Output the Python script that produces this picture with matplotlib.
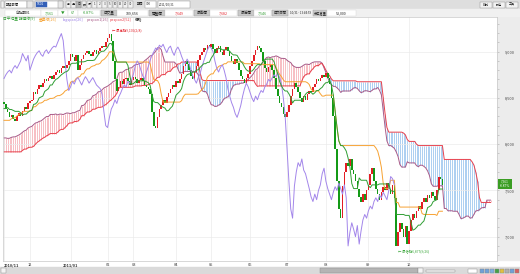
import matplotlib
matplotlib.use('Agg')
import matplotlib.pyplot as plt
import numpy as np
from matplotlib.patches import Rectangle
from matplotlib.ticker import FuncFormatter, MultipleLocator

plt.rcParams['font.family'] = ['Noto Sans CJK TC', 'DejaVu Sans']

# daily closes before the first visible bar (needed for the cloud)
pre_close = [7800, 7820, 7780, 7740, 7760, 7800, 7830, 7790, 7750,
             7700, 7670, 7640, 7660, 7700, 7680, 7650, 7634, 7660, 7700, 7720,
             7760, 7800, 7780, 7750, 7790, 7820, 7800,
             7780, 7770, 7800, 7840, 7880, 7860, 7900, 7940,
             7990, 8020, 8000, 8040, 8060, 8030, 8060,
             8080, 8120, 8100, 8150, 8180, 8160, 8200, 8190, 8170, 8200, 8180,
             8120, 8080, 8056, 8090, 8130, 8110, 8150, 8180, 8200,
             8230, 8260, 8250, 8290, 8300, 8280, 8320, 8340, 8310, 8350, 8330,
             8380, 8400, 8430, 8410, 8460]

# visible daily closes, 2010/11 .. 2011/10/31
close = [8430, 8380, 8350, 8290, 8320, 8270, 8250, 8300, 8340, 8310,
         8360, 8400, 8380, 8440, 8470, 8480,
         8560, 8540, 8600, 8640, 8620,
         8660, 8700, 8680, 8720, 8740, 8710, 8750,
         8780, 8800, 8770, 8820, 8850, 8820, 8860, 8900,
         8980, 8940, 8900, 8960, 8800, 8860, 8920,
         8960, 8990, 9010, 8970, 8950, 9000, 9020, 8980, 9010, 9040, 9060, 9050,
         9100, 9150, 9196, 9120,
         8900, 8700, 8580,
         8620, 8680, 8650, 8700, 8720, 8680, 8640, 8690, 8730,
         8700, 8660, 8690, 8720, 8680, 8640, 8620, 8600, 8540,
         8350, 8200, 8180, 8290,
         8380, 8420, 8480, 8440, 8510, 8550,
         8600, 8640, 8620, 8680, 8660, 8700, 8760,
         8850, 8900, 8870,
         8800, 8740, 8700, 8780, 8840, 8910,
         8960, 9000, 9040, 9020, 9070, 9050, 9080,
         9030, 8990, 9040, 9060, 9000, 8960, 9020, 9050, 9010,
         8950, 8900, 8870, 8920, 8880,
         8800, 8740, 8700, 8660, 8720, 8760,
         8840, 8900, 8960, 9020, 9060, 9040, 9000,
         8900, 8820, 8780,
         8830, 8860, 8800, 8720,
         8600, 8520, 8450, 8400,
         8330, 8290, 8350, 8420,
         8520, 8600, 8660, 8620, 8560,
         8500, 8460, 8520, 8480, 8540, 8580, 8560,
         8620, 8650, 8700, 8680, 8720, 8750, 8730, 8770, 8720,
         8650, 8500, 8300,
         7950, 7600, 7300, 7200,
         7550, 7700, 7800, 7760, 7840, 7720, 7680,
         7600, 7520, 7430, 7380, 7460, 7400, 7500, 7560,
         7680, 7740,
         7600, 7520, 7460, 7400, 7480, 7540,
         7500, 7580, 7520, 7460, 7560, 7420,
         6900, 7050, 7150, 7080, 7000, 7120, 6920, 7060,
         7180, 7240, 7200, 7280, 7330, 7300, 7380,
         7420, 7380, 7450, 7420, 7480, 7440, 7400,
         7500, 7650, 7628, 7561]

month_idx = [0, 14, 36, 56, 70, 93, 112, 133, 153, 174, 197, 219]
month_labels = ['2010/11', '12', '2011/01', '02', '03', '04', '05', '06',
                '07', '08', '09', '10']

W, H = 520, 274
fig = plt.figure(figsize=(W / 100, H / 100), dpi=100)
fig.patch.set_facecolor('white')


def box(x0, y0, x1, y1, fc, ec=None, lw=0.3):
    fig.patches.append(Rectangle((x0 / W, 1 - y1 / H), (x1 - x0) / W, (y1 - y0) / H,
                                 transform=fig.transFigure, facecolor=fc,
                                 edgecolor=ec if ec else fc, lw=lw, zorder=-2))


def txt(x, y, s, color='#222222', ha='left', size=2.6, weight='normal'):
    fig.text(x / W, 1 - y / H, s, color=color, ha=ha, va='center', fontsize=size,
             fontweight=weight)


# ichimoku lines from the closes
full = np.array(pre_close + close, dtype=float)
opens = np.r_[full[0], full[:-1]]
hi = np.maximum(opens, full)
lo = np.minimum(opens, full)


def midrange(n):
    out = np.full(len(full), np.nan)
    for i in range(n - 1, len(full)):
        out[i] = (hi[i - n + 1:i + 1].max() + lo[i - n + 1:i + 1].min()) / 2
    return out


tenkan = midrange(9)
kijun = midrange(26)
span1 = (tenkan + kijun) / 2
span2 = midrange(52)

P = len(pre_close)
N = len(close)
v = np.arange(N)
c = full[P:]
o = opens[P:]
sv = np.arange(N + 26)
s1 = span1[P - 26:P + N]
s2 = span2[P - 26:P + N]

ax = fig.add_axes([3 / W, (H - 261) / H, (497 - 3) / W, (261 - 17) / H])
ax.set_facecolor('white')

# cloud drawn as one vertical stroke per bar
up = s1 >= s2
ax.vlines(sv[up], s2[up], s1[up], color='#f6b3b9', lw=0.6, zorder=1)
ax.vlines(sv[~up], s1[~up], s2[~up], color='#9fc7ef', lw=0.6, zorder=1)
ax.plot(sv, s1, color='#a85a88', lw=0.7, zorder=2)
ax.plot(sv, s2, color='#e8404c', lw=0.7, zorder=2)

# candles
rise = c >= o
ax.bar(v[rise], c[rise] - o[rise], bottom=o[rise], width=0.85, color='#e31d25', lw=0, zorder=3)
ax.bar(v[~rise], c[~rise] - o[~rise], bottom=o[~rise], width=0.85, color='#149a17', lw=0, zorder=3)

ax.plot(v, kijun[P:], color='#f7a233', lw=0.7, zorder=4)
ax.plot(v[:N - 26], c[26:], color='#a386ea', lw=0.7, zorder=4)
ax.plot(v, tenkan[P:], color='#2f9e33', lw=0.7, zorder=5)

ax.text(58.3, 9232, '\u2190 最高點9,196(2/8)', color='#e3222b', fontsize=2.4, va='center', zorder=6)
ax.text(212.8, 6838, '\u2190 最低點6,877(9/26)', color='#3aa63a', fontsize=2.4, va='center', zorder=6)

ax.set_xlim(-0.54, 266.5)
ax.set_ylim(6737, 9375)
ax.set_xticks(month_idx)
ax.set_xticklabels(month_labels)
ax.tick_params(axis='x', length=0, pad=1.6, labelsize=2.8, colors='#333333')
for lab in ax.get_xticklabels():
    if '/' in lab.get_text():
        lab.set_fontweight('bold')
ax.get_xticklabels()[0].set_ha('left')
ax.yaxis.tick_right()
ax.yaxis.set_major_locator(MultipleLocator(500))
ax.yaxis.set_minor_locator(MultipleLocator(100))
ax.yaxis.set_major_formatter(FuncFormatter(lambda val, pos: '{:,.0f}'.format(val)))
ax.tick_params(axis='y', which='both', direction='out', length=1.5, width=0.4,
               color='#aaaaaa', labelsize=2.8, labelcolor='#444444', pad=4)
ax.grid(True, which='major', color='#ebebeb', lw=0.5, zorder=0)
for sp in ax.spines.values():
    sp.set_color('#c8c8c8')
    sp.set_linewidth(0.5)

# right axis panel
box(497, 17, 520, 261, '#ececec')

# price tag
fig.patches.append(Rectangle((498 / W, 1 - 189 / H), 14 / W, 10 / H, transform=fig.transFigure,
                             facecolor='#3a9d23', lw=0, zorder=2))
txt(505, 181.7, '7,561', color='white', ha='center', size=2.3)
txt(505, 186.3, '-0.87%', color='white', ha='center', size=2.3)

# top toolbar
box(0, 0, 520, 9, '#dedede')
box(0.5, 1, 4, 7.5, '#f4f4f4', '#8a8a8a')
box(5, 1, 27, 7.5, 'white', '#8a8a8a')
txt(6, 4.3, '期貨報價', size=2.3)
box(27, 1, 33, 7.5, '#e8e8e8', '#8a8a8a')
box(35, 1, 63, 7.5, 'white', '#8a8a8a')
box(36, 2, 47, 6.5, '#3460b8')
txt(37, 4.3, 'TX01', color='white', size=2.3)
box(58, 1, 63, 7.5, '#e8e8e8', '#8a8a8a')
btns = ['月', '週', '日', '時', '分', '1', '2', '3', '5', '10', '15', '20', '30']
bx = 66
for b in btns:
    fc = '#b8b8b8' if b == '日' else '#f2f2f2'
    box(bx, 1, bx + 4.6, 7.5, fc, '#8a8a8a')
    txt(bx + 2.3, 4.3, b, ha='center', size=2.1)
    bx += 5.2
txt(137, 4.3, '期間', size=2.3)
box(145, 1, 156, 7.5, 'white', '#8a8a8a')
txt(146, 4.3, '300', size=2.2)
box(158, 1, 190, 7.5, 'white', '#8a8a8a')
txt(159, 4.3, '2011/10/31', size=2.2)
for i, b in enumerate(['排列', '設定', '工具']):
    box(480 + i * 13, 1.5, 492 + i * 13, 7.5, '#f2f2f2', '#8a8a8a')
    txt(486 + i * 13, 4.5, b, ha='center', size=2.2)

# quote row
box(0, 9, 520, 17, '#f0f0f0')
cells = [(5, 41, '台指期01', '#222222', 'label'),
         (41, 58, '7,561', '#2c9a2c', 'value'),
         (58, 68, '\u25bc', '#2c9a2c', 'value'),
         (68, 78, '67', '#2c9a2c', 'value'),
         (78, 100, '-0.87%', '#2c9a2c', 'value'),
         (101, 117, '成交量', '#222222', 'head'),
         (117, 148, '109,656', '#222222', 'value'),
         (149, 165, '開盤價', '#222222', 'head'),
         (165, 193, '7,649', '#e3222b', 'value'),
         (194, 210, '最高價', '#222222', 'head'),
         (210, 237, '7,682', '#e3222b', 'value'),
         (238, 254, '最低價', '#222222', 'head'),
         (254, 271, '7,546', '#2c9a2c', 'value'),
         (272, 288, '成交時間', '#222222', 'head'),
         (288, 313, '10/31 - 13:44:59', '#222222', 'plain'),
         (313, 327, '未平倉量', '#222222', 'head'),
         (327, 356, '53,000', '#222222', 'value')]
for x0, x1, s, col, kind in cells:
    if kind == 'head':
        box(x0, 10, x1, 16, '#c9c9c9', '#9a9a9a')
    elif kind != 'plain':
        box(x0, 10, x1, 16, 'white', '#d6d6d6')
    size = 2.6
    if kind == 'plain':
        size = 2.1
    elif kind == 'head' and len(s) == 4:
        size = 2.3
    txt((x0 + x1) / 2, 13, s, color=col, ha='center', size=size)

# legend row
legend = [(3, '日平均量 轉換線[9]', '#2f9e33'), (39, '基準線[26]', '#f39a22'),
          (63, 'lagspan[26]', '#9a7ee6'), (87, 'pespan1[26]', '#a85a88'),
          (110, 'pespan2[52]', '#e8404c'), (135, '價格', '#333333')]
for x, s, col in legend:
    txt(x, 19.6, s, color=col, size=2.7)

# bottom scroll bar
box(0, 267, 520, 274, '#dadada')
box(1, 268, 6, 273, '#f4f4f4', '#8a8a8a')
box(320, 268, 418, 273, '#b4b4b4', '#8a8a8a')
box(418, 268, 423, 273, '#f4f4f4', '#8a8a8a')
box(426, 269.5, 455, 271.5, '#f4f4f4', '#8a8a8a')
box(468, 268.5, 477, 272.5, 'white', '#8a8a8a')
icon_cols = ['#6fa0d8', '#6fa0d8', '#7fb0e0', '#46a046', '#e0c040', '#b0b0b0', '#6fa0d8', '#d86060']
for i, col in enumerate(icon_cols):
    box(480 + i * 5, 268.5, 484 + i * 5, 272.5, col, '#888888')

fig.savefig('out.png', dpi=100)
